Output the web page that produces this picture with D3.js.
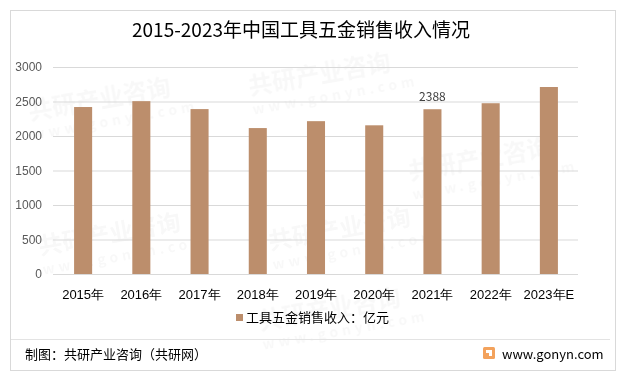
<!DOCTYPE html>
<html>
<head>
<meta charset="utf-8">
<script src="https://cdn.jsdelivr.net/npm/d3@7"></script>
<style>
  body { margin: 0; background: #fff; }
  svg { display: block; font-family: "Microsoft YaHei", "Noto Sans CJK SC", sans-serif; }
</style>
</head>
<body>
<script>
var years = ['2015年','2016年','2017年','2018年','2019年','2020年','2021年','2022年','2023年E'];
var sales = [2420, 2505, 2390, 2115, 2215, 2155, 2388, 2475, 2710];
var yTicks = [0, 500, 1000, 1500, 2000, 2500, 3000];
var labelled = ['2021年'];
var seriesName = '工具五金销售收入：亿元';

const WIDTH = 626;
const HEIGHT = 378;
const BAR = '#bc8e6c';

var svg = d3.select('body').append('svg')
  .attr('width', WIDTH).attr('height', HEIGHT);

// outer frame
svg.append('rect')
  .attr('x', 10.5).attr('y', 10.5)
  .attr('width', 605).attr('height', 360)
  .attr('fill', '#fff').attr('stroke', '#d9d9d9');

// faint watermarks, kept well inside the frame
var wm = svg.append('g').attr('fill', '#000').attr('opacity', 0.03)
  .style('font-weight', 'bold');
[[30,120],[250,95],[410,180],[40,255],[270,250],[260,330]].forEach(function(p){
  var g = wm.append('g').attr('transform', 'translate(' + p[0] + ',' + p[1] + ') rotate(-10)');
  g.append('text').attr('font-size', 24).text('共研产业咨询');
  g.append('text').attr('y', 20).attr('font-size', 14).attr('letter-spacing', 4).text('www.gonyn.com');
});

var x = d3.scaleBand()
  .domain(years)
  .range([54, 578])
  .paddingInner(0.69)
  .paddingOuter(0.345);

var y = d3.scaleLinear()
  .domain([0, 3000])
  .range([274, 67]);

// title
svg.append('text')
  .attr('x', 301).attr('y', 37)
  .attr('text-anchor', 'middle')
  .attr('font-size', 19)
  .attr('fill', '#000')
  .text('2015-2023年中国工具五金销售收入情况');

// grid + y axis
var yAxis = d3.axisLeft(y).tickValues(yTicks).tickFormat(d3.format('d'))
  .tickSize(-(578 - 53)).tickPadding(11);
var ga = svg.append('g').attr('transform', 'translate(53,0)').call(yAxis);
ga.select('.domain').remove();
ga.selectAll('.tick line').attr('stroke', '#d9d9d9');
ga.selectAll('.tick text').attr('fill', '#595959').attr('font-size', 12);

// bars
svg.append('g').selectAll('rect')
  .data(years)
  .enter().append('rect')
  .attr('x', function(d){ return x(d); })
  .attr('width', x.bandwidth())
  .attr('y', function(d, i){ return y(sales[i]); })
  .attr('height', function(d, i){ return y(0) - y(sales[i]); })
  .attr('fill', BAR);

// data label
svg.append('g').selectAll('text')
  .data(years.filter(function(d){ return labelled.indexOf(d) >= 0; }))
  .enter().append('text')
  .attr('x', function(d){ return x(d) + x.bandwidth() / 2; })
  .attr('y', function(d){ return y(sales[years.indexOf(d)]) - 8; })
  .attr('text-anchor', 'middle')
  .attr('font-size', 12)
  .attr('fill', '#404040')
  .text(function(d){ return sales[years.indexOf(d)]; });

// x axis labels
var xAxis = d3.axisBottom(x).tickSize(0).tickPadding(16);
var gx = svg.append('g').attr('transform', 'translate(0,274)').call(xAxis);
gx.select('.domain').remove();
gx.selectAll('.tick text').attr('fill', '#000').attr('font-size', 13);

// legend
var lg = svg.append('g').attr('transform', 'translate(236,322)');
lg.append('rect').attr('x', 0).attr('y', -8).attr('width', 7).attr('height', 7).attr('fill', BAR);
lg.append('text').attr('x', 10).attr('y', 0).attr('font-size', 13).attr('fill', '#000').text(seriesName);

// footer
svg.append('line')
  .attr('x1', 11).attr('x2', 610).attr('y1', 339.5).attr('y2', 339.5)
  .attr('stroke', '#e3e3e3');
svg.append('text')
  .attr('x', 25).attr('y', 359)
  .attr('font-size', 13).attr('fill', '#000')
  .text('制图：共研产业咨询（共研网）');

var logo = svg.append('g').attr('transform', 'translate(483,347)');
logo.append('rect').attr('width', 12).attr('height', 12).attr('rx', 1.5).attr('fill', '#f3a25c');
logo.append('rect').attr('x', 3).attr('y', 3).attr('width', 6).attr('height', 3).attr('fill', '#fff');
logo.append('rect').attr('x', 6).attr('y', 6).attr('width', 3).attr('height', 3).attr('fill', '#fff');
svg.append('text')
  .attr('x', 502).attr('y', 359)
  .attr('font-size', 13).attr('fill', '#000')
  .text('www.gonyn.com');
</script>
</body>
</html>
